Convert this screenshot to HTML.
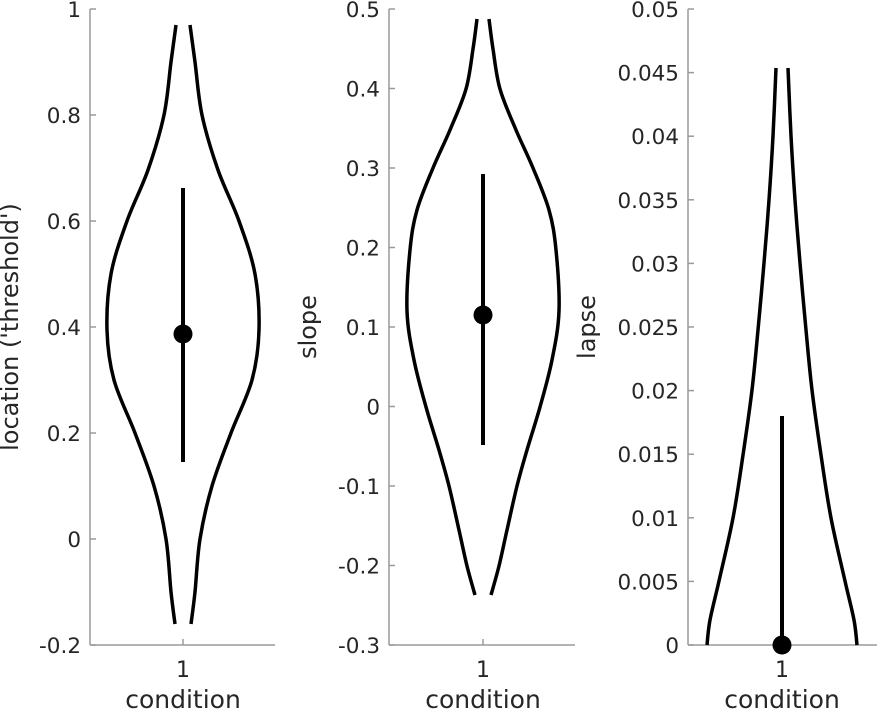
<!DOCTYPE html>
<html><head><meta charset="utf-8"><style>
html,body{margin:0;padding:0;background:#fff;}
svg{display:block;font-family:"DejaVu Sans","Liberation Sans",sans-serif;}
</style></head><body>
<svg id="s" width="877" height="712" viewBox="0 0 877 712">
<g id="g"></g>
</svg>
<script>
const g=document.getElementById('g');
function add(h){g.insertAdjacentHTML('beforeend',h);}
const ax='#9a9a9a';
function panel(x0,x1,cx,ticks,label,lx,prof,eb,dot){
  add(`<line x1="${x0}" y1="9" x2="${x0}" y2="645" stroke="${ax}" stroke-width="1.5"/>`);
  add(`<line x1="${x0}" y1="645" x2="${x1}" y2="645" stroke="${ax}" stroke-width="1.5"/>`);
  add(`<line x1="${cx}" y1="645" x2="${cx}" y2="639" stroke="${ax}" stroke-width="1.5"/>`);
  ticks.forEach(([y,t])=>{
    add(`<line x1="${x0}" y1="${y}" x2="${x0+6}" y2="${y}" stroke="${ax}" stroke-width="1.5"/>`);
    add(`<text x="${x0-9}" y="${y+8}" font-size="21.5" fill="#262626" text-anchor="end">${t}</text>`);
  });
  add(`<text x="${cx}" y="677" font-size="22" fill="#262626" text-anchor="middle">1</text>`);
  add(`<text x="${cx}" y="708" font-size="25" fill="#262626" text-anchor="middle">condition</text>`);
  add(`<text transform="translate(${lx},327) rotate(-90)" font-size="24" fill="#262626" text-anchor="middle">${label}</text>`);
  [1,-1].forEach(sg=>{
    const p=prof.map(([y,h])=>[cx+sg*h,y]);
    let d=`M${p[0][0]},${p[0][1]}`;
    for(let i=0;i<p.length-1;i++){
      const a=p[Math.max(0,i-1)],b=p[i],c=p[i+1],e=p[Math.min(p.length-1,i+2)];
      const c1=[b[0]+(c[0]-a[0])/6,b[1]+(c[1]-a[1])/6],c2=[c[0]-(e[0]-b[0])/6,c[1]-(e[1]-b[1])/6];
      d+=` C${c1[0]},${c1[1]} ${c2[0]},${c2[1]} ${c[0]},${c[1]}`;
    }
    add(`<path d="${d}" fill="none" stroke="#000" stroke-width="3.5"/>`);
  });
  add(`<line x1="${cx}" y1="${eb[0]}" x2="${cx}" y2="${eb[1]}" stroke="#000" stroke-width="4"/>`);
  add(`<circle cx="${cx}" cy="${dot}" r="9.5" fill="#000"/>`);
}
panel(90,275,183,
 [[9,'1'],[115,'0.8'],[221,'0.6'],[327,'0.4'],[433,'0.2'],[539,'0'],[645,'-0.2']],
 "location ('threshold')",18,
 [[25,7],[62,12],[115,19],[170,35],[221,56],[274,72],[330,76],[380,69],[433,48],[486,29],[539,17],[592,12],[624,8]],
 [188,462],334);
panel(389,575,483,
 [[19,6],[49,10],[89,17],[130,33],[168,50],[210,66],[250,73],[311,76],[360,69],[407,57],[450,44],[486,34],[530,24],[566,16],[595,8]].length?[[9,'0.5'],[88.5,'0.4'],[168,'0.3'],[247.5,'0.2'],[327,'0.1'],[406.5,'0'],[486,'-0.1'],[565.5,'-0.2'],[645,'-0.3']]:[],
 "slope",316,
 [[19,6],[49,10],[89,17],[130,33],[168,50],[210,66],[250,73],[311,76],[360,69],[407,57],[450,44],[486,34],[530,24],[566,16],[595,8]],
 [174,445],315);
panel(688,877,782,
 [[9,'0.05'],[72.6,'0.045'],[136.2,'0.04'],[199.8,'0.035'],[263.4,'0.03'],[327,'0.025'],[390.6,'0.02'],[454.2,'0.015'],[517.8,'0.01'],[581.4,'0.005'],[645,'0']],
 "lapse",595,
 [[68,6],[136,9],[200,13],[263,18],[330,24],[390,30],[455,39],[518,49],[581,63],[620,72],[645,75]],
 [416,645],645);
</script>
</body></html>
